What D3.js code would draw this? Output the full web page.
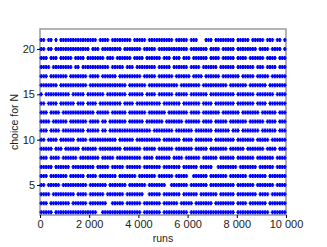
<!DOCTYPE html>
<html>
<head>
<meta charset="utf-8">
<script src="https://cdn.jsdelivr.net/npm/d3@7"></script>
<style>
   body { margin: 0; background: #fff; }
   svg { display: block; font-family: "Liberation Sans", Arial, sans-serif; }
</style>
</head>
<body>
<svg width="327" height="247"></svg>
<script>
// values
var choices = [2, 3, 4, 5, 6, 7, 8, 9, 10, 11, 12, 13, 14, 15, 16, 17, 18, 19, 20, 21];
var runBin = 100;      // one column of the picture ~ 100 runs
var runCount = 10000;
// blank 100-run bins (no run picked this N), one list per choice, bottom row first
var gapBins = [
   [5, 23, 24, 41, 49, 60, 79, 93],                                          // 2
   [3, 12, 19, 27, 28, 34, 41, 49, 56, 62, 70, 79, 84, 92],                  // 3
   [4, 14, 19, 26, 34, 42, 43, 49, 57, 64, 72, 79, 88, 93],                  // 4
   [2, 8, 19, 27, 35, 43, 51, 52, 60, 68, 79, 87, 95],                       // 5
   [3, 11, 18, 23, 31, 39, 47, 54, 60, 61, 68, 76, 84, 92],                  // 6
   [5, 12, 22, 28, 34, 41, 49, 57, 64, 70, 71, 80, 88, 95],                  // 7
   [3, 8, 15, 24, 30, 41, 46, 53, 58, 65, 72, 79, 87, 95],                   // 8
   [5, 9, 16, 23, 33, 41, 47, 54, 62, 68, 76, 83, 91, 96],                   // 9
   [2, 7, 14, 19, 31, 38, 49, 57, 62, 70, 79, 87, 93],                       // 10
   [3, 8, 18, 24, 27, 45, 54, 62, 70, 77, 81, 89, 96],                       // 11
   [4, 11, 19, 24, 27, 35, 42, 50, 58, 65, 70, 76, 84, 91, 96],              // 12
   [3, 8, 22, 28, 35, 43, 51, 60, 65, 73, 81, 89, 96],                       // 13
   [2, 7, 14, 18, 23, 33, 38, 49, 57, 65, 70, 79, 87, 92],                   // 14
   [1, 12, 18, 26, 35, 42, 47, 54, 60, 68, 79, 87, 95],                      // 15
   [7, 19, 35, 43, 56, 65, 76, 84, 92],                                      // 16
   [3, 11, 19, 24, 31, 41, 47, 54, 61, 66, 73, 81, 87, 93],                  // 17
   [4, 13, 16, 28, 34, 38, 47, 53, 60, 65, 72, 79, 87, 91, 96],              // 18
   [3, 7, 13, 18, 26, 30, 37, 42, 49, 53, 57, 61, 68, 73, 79, 84, 91, 96],   // 19
   [2, 5, 20, 24, 33, 41, 47, 60, 68, 73, 79, 88, 93, 98],                   // 20
   [2, 5, 7, 23, 28, 37, 43, 54, 60, 64, 65, 66, 70, 79, 85, 91, 95, 98]     // 21
];
var xTicks = [0, 2000, 4000, 6000, 8000, 10000];
var yTicks = [5, 10, 15, 20];

var svg = d3.select("svg");
var margin = {top: 29, right: 41, bottom: 32, left: 40};
var width = +svg.attr("width") - margin.left - margin.right;
var height = +svg.attr("height") - margin.top - margin.bottom;

var x = d3.scaleLinear().domain([0, runCount]).range([0, width]);
var y = d3.scaleLinear().domain([1.7, 22.2]).range([height, 0]);

// one point per filled bin
var points = [];
choices.forEach(function (n, i) {
   var gaps = gapBins[i];
   for (var b = 0; b < runCount / runBin; b++) {
      if (gaps.indexOf(b) < 0) points.push({run: b * runBin + runBin / 2, n: n});
   }
});

var g = svg.append("g").attr("transform", "translate(" + margin.left + "," + margin.top + ")");

g.append("rect")
   .attr("width", width)
   .attr("height", height)
   .attr("fill", "none")
   .attr("stroke", "#9a9a9a")
   .attr("stroke-width", 1.5);

// "+" marker: upright bar plus a flat bar, both wound the same way
var plus = "M-0.95,-2V2H0.95V-2Z M-1.8,-0.7V0.7H1.8V-0.7Z";
g.append("g")
   .attr("fill", "#0000ff")
   .selectAll("path")
   .data(points)
   .enter().append("path")
   .attr("transform", function (d) {
      return "translate(" + x(d.run) + "," + y(d.n) + ")";
   })
   .attr("d", plus);

var fmt = function (v) {
   return d3.format(",")(v).replace(",", " ");
};

var xAxis = g.append("g")
   .attr("transform", "translate(0," + height + ")")
   .call(d3.axisBottom(x).tickValues(xTicks).tickSize(3).tickPadding(2).tickFormat(fmt));
var yAxis = g.append("g")
   .call(d3.axisLeft(y).tickValues(yTicks).tickSize(3).tickPadding(2));

[xAxis, yAxis].forEach(function (a) {
   a.select(".domain").remove();
   a.selectAll("text")
      .attr("fill", "#222")
      .style("font-size", "11px")
      .style("font-family", "'Liberation Sans', Arial, sans-serif");
});

svg.append("text")
   .attr("x", margin.left + width / 2)
   .attr("y", 242)
   .attr("text-anchor", "middle")
   .attr("fill", "#222")
   .style("font-size", "10.5px")
   .text("runs");

svg.append("text")
   .attr("transform", "translate(18," + (margin.top + height / 2) + ") rotate(-90)")
   .attr("text-anchor", "middle")
   .attr("fill", "#222")
   .style("font-size", "10.5px")
   .text("choice for N");
</script>
</body>
</html>
